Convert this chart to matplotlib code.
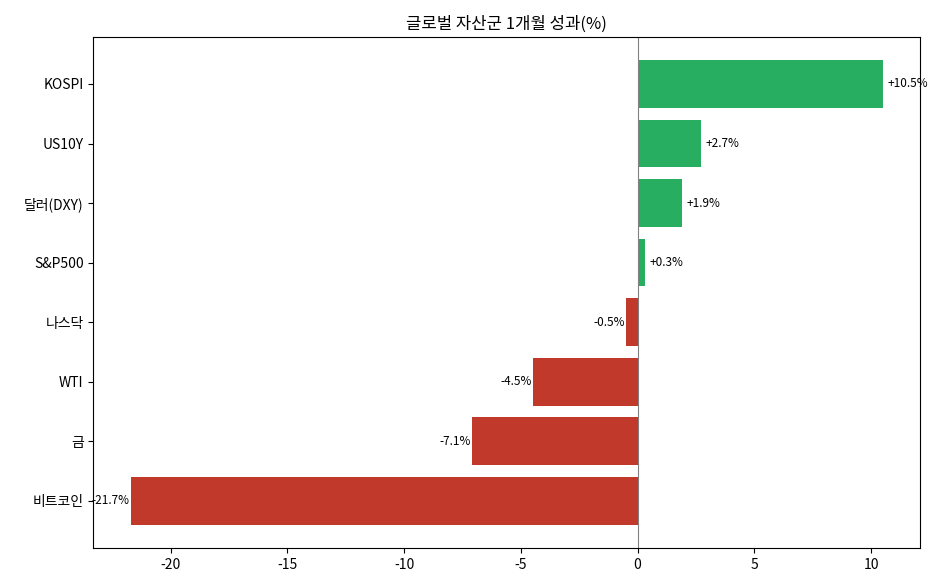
import matplotlib
matplotlib.use("Agg")
import matplotlib.pyplot as plt

plt.rcParams['font.family'] = ['Noto Sans CJK KR', 'DejaVu Sans']
plt.rcParams['axes.unicode_minus'] = False

assets = ["비트코인", "금", "WTI", "나스닥", "S&P500", "달러(DXY)", "US10Y", "KOSPI"]
returns = [-21.7, -7.1, -4.5, -0.5, 0.3, 1.9, 2.7, 10.5]

colors = ["#27ae60" if v > 0 else "#c0392b" for v in returns]

fig, ax = plt.subplots(figsize=(9.43, 5.86), dpi=100)
fig.subplots_adjust(left=0.099, right=0.976, top=0.937, bottom=0.065)

ax.barh(assets, returns, color=colors, height=0.8)
ax.axvline(0, color="gray", linewidth=0.8)

for i, v in enumerate(returns):
    if v > 0:
        ax.text(v + 0.2, i, f"{v:+.1f}%", va="center", ha="left", fontsize=8.5)
    else:
        ax.text(v - 0.05, i, f"{v:+.1f}%", va="center", ha="right", fontsize=8.5)

ax.set_title("글로벌 자산군 1개월 성과(%)", fontsize=12)
ax.tick_params(labelsize=10)

fig.savefig("out.png", dpi=100)
